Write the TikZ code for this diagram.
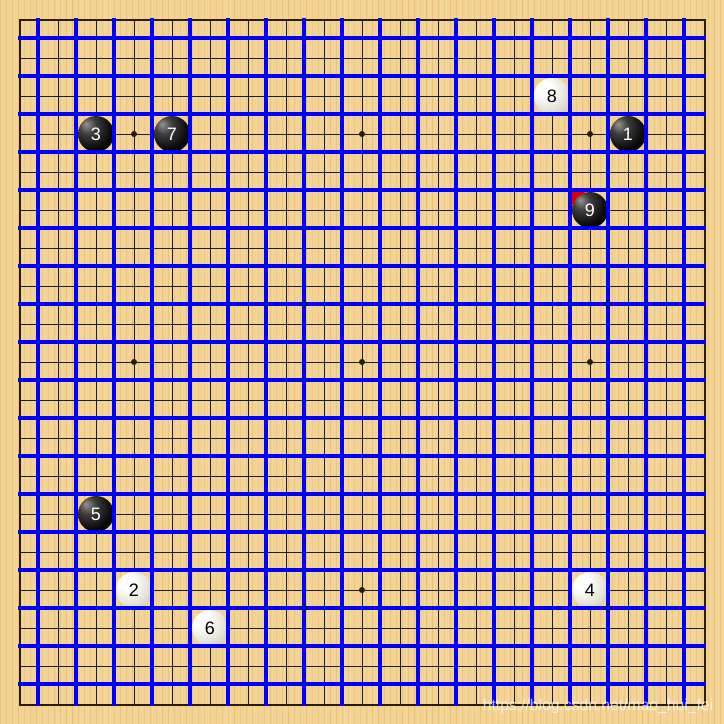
\documentclass[tikz,border=0pt]{standalone}
\usepackage{fontspec}
\setmainfont{Liberation Sans}
\definecolor{wood}{RGB}{243,209,143}
\definecolor{woodlight}{RGB}{252,228,175}
\definecolor{wooddark}{RGB}{220,178,108}
\definecolor{goline}{RGB}{40,28,10}
\definecolor{gridblue}{RGB}{0,0,255}
\definecolor{flag}{RGB}{215,0,0}
\definecolor{whitemid}{RGB}{226,222,210}
\definecolor{whiteedge}{RGB}{200,188,160}
\definecolor{whiteouter}{RGB}{178,162,125}
\pgfdeclareradialshading{blackstone}{\pgfpoint{-14bp}{14bp}}{color(0bp)=(black!42); color(12bp)=(black!76); color(30bp)=(black!97); color(80bp)=(black)}
\pgfdeclareradialshading{whitestone}{\pgfpoint{-12bp}{12bp}}{color(0bp)=(white); color(10bp)=(white); color(30bp)=(whitemid); color(46bp)=(whiteedge); color(62bp)=(whiteouter); color(90bp)=(whiteouter)}
\tikzset{
  stonebase/.style={circle, minimum size=36pt, inner sep=0pt, font=\fontsize{18}{18}\selectfont},
  bstone/.style={stonebase, shading=blackstone, text=white},
  wstone/.style={stonebase, shading=whitestone, text=black},
  goln/.style={draw=goline, line width=0.9pt},
  blueln/.style={draw=gridblue, line width=3.3pt},
  starpt/.style={circle, fill=goline, minimum size=6pt, inner sep=0pt},
}
\begin{document}
\begin{tikzpicture}[x=1pt,y=-1pt]
\useasboundingbox (0,0) rectangle (724,724);
% wood background
\fill[wood] (0,0) rectangle (724,724);
\pgfmathsetseed{7}
\foreach \i in {0,...,361}{
  \pgfmathsetmacro\op{0.15+0.35*rnd}
  \pgfmathtruncatemacro\pick{mod(\i,3)}
  \ifnum\pick=0
    \fill[wooddark, opacity=\op] (2*\i,0) rectangle ++(1,724);
  \else
    \fill[woodlight, opacity=\op] (2*\i,0) rectangle ++(1.2,724);
  \fi
}
% go lines
\foreach \k in {1,...,17}{
  \draw[goln] ({20+38*\k},20) -- ({20+38*\k},704);
  \draw[goln] (20,{20+38*\k}) -- (704,{20+38*\k});
}
\draw[draw=goline, line width=2pt] (20,20) rectangle (705,705);
% star points
\foreach \a in {3,9,15}{
  \foreach \b in {3,9,15}{
    \node[starpt] (h\a-\b) at ({20+38*\a},{20+38*\b}) {};
  }
}
% last move marker
\fill[flag] (572,192) -- (585,192) -- (572,205) -- cycle;
% stones
\node[bstone] (s1) at ({20+38*16},{20+38*3}) {1};
\node[wstone] (s2) at ({20+38*3},{20+38*15}) {2};
\node[bstone] (s3) at ({20+38*2},{20+38*3}) {3};
\node[wstone] (s4) at ({20+38*15},{20+38*15}) {4};
\node[bstone] (s5) at ({20+38*2},{20+38*13}) {5};
\node[wstone] (s6) at ({20+38*5},{20+38*16}) {6};
\node[bstone] (s7) at ({20+38*4},{20+38*3}) {7};
\node[wstone] (s8) at ({20+38*14},{20+38*2}) {8};
\node[bstone] (s9) at ({20+38*15},{20+38*5}) {9};
% blue grid
\foreach \m in {1,...,18}{
  \draw[blueln] ({38*\m},18) -- ({38*\m},705);
  \draw[blueln] (18,{38*\m}) -- (705,{38*\m});
}
% watermark
\node[text=white, opacity=0.7, font=\fontsize{15.7}{16}\selectfont, inner sep=0pt] (wm) at (598,706) {https://blog.csdn.net/mao\_hui\_fei};
\end{tikzpicture}
\end{document}
